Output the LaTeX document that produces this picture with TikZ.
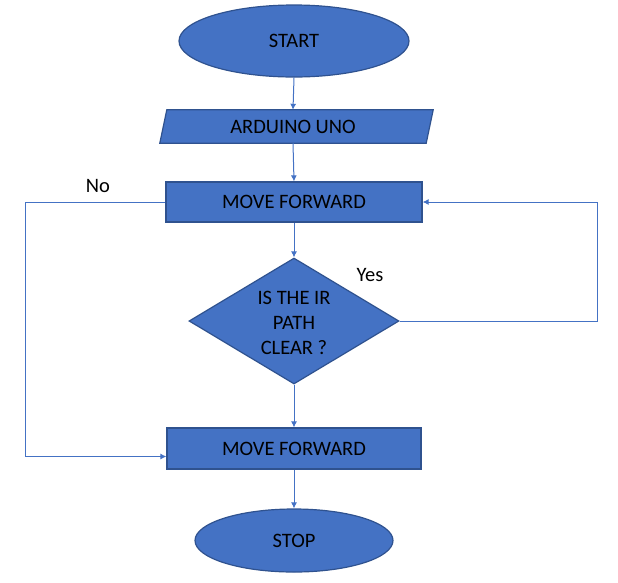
\documentclass[tikz,border=0pt]{standalone}
\usepackage{fontspec}
\setmainfont{Carlito}
\usetikzlibrary{shapes.geometric,arrows.meta,calc}
\definecolor{fillblue}{HTML}{4472C4}
\definecolor{edgeblue}{HTML}{2F528F}
\tikzset{
  shapebase/.style={fill=fillblue,draw=edgeblue,line width=1.2pt,inner sep=0pt,font=\fontsize{20.5}{25}\selectfont},
  terminal/.style={shapebase,ellipse},
  procbox/.style={shapebase,rectangle},
  decision/.style={shapebase,diamond},
  flow/.style={draw=fillblue,line width=1pt,-{Latex[length=6pt,width=6pt]}},
  lbl/.style={font=\fontsize{20.5}{25}\selectfont,inner sep=0pt}
}
\begin{document}
\begin{tikzpicture}[x=1pt,y=-1pt]
\useasboundingbox (0,0) rectangle (618,582);
\node[terminal,minimum width=230pt,minimum height=72pt] (start) at (294,41) {START};
% parallelogram
\node[inner sep=0pt,minimum width=266pt,minimum height=33pt] (ardbox) at (293,126.5) {};
\fill[fillblue,draw=edgeblue,line width=1.2pt] ($(ardbox.north west)+(7,0)$) coordinate (ptl) -- ($(ardbox.north east)+(7,0)$) coordinate (ptr) -- (ardbox.south east) coordinate (pbr) -- (ardbox.south west) coordinate (pbl) -- cycle;
\node[lbl] (ard) at (ardbox.center) {ARDUINO UNO};
\node[procbox,minimum width=256pt,minimum height=40pt] (mf1) at (294,202) {MOVE FORWARD};
\node[decision,minimum width=210pt,minimum height=126pt] (dec) at (294,321) {};
\node[lbl,align=center] (dectext) at (294,323) {IS THE IR\\PATH\\CLEAR ?};
\node[procbox,minimum width=254pt,minimum height=41pt] (mf2) at (294,448.5) {MOVE FORWARD};
\node[terminal,minimum width=198pt,minimum height=63pt] (stop) at (294,540.5) {STOP};
\node[lbl] (no) at (98,186) {No};
\node[lbl] (yes) at (370,275) {Yes};
\coordinate (lefttop) at (25,202);
\coordinate (mf2in) at ($(mf2.west)+(0,8)$);
\coordinate (rightbot) at (597,321);
\draw[flow] (start.south) -- (ardbox.north);
\draw[flow] (ardbox.south) -- (mf1.north);
\draw[flow] (mf1.south) -- (dec.north);
\draw[flow] (dec.south) -- (mf2.north);
\draw[flow] (mf2.south) -- (stop.north);
\draw[flow] (mf1.west) -- (lefttop) |- (mf2in);
\draw[flow] (dec.east) -- (rightbot) |- (mf1.east);
\end{tikzpicture}
\end{document}
